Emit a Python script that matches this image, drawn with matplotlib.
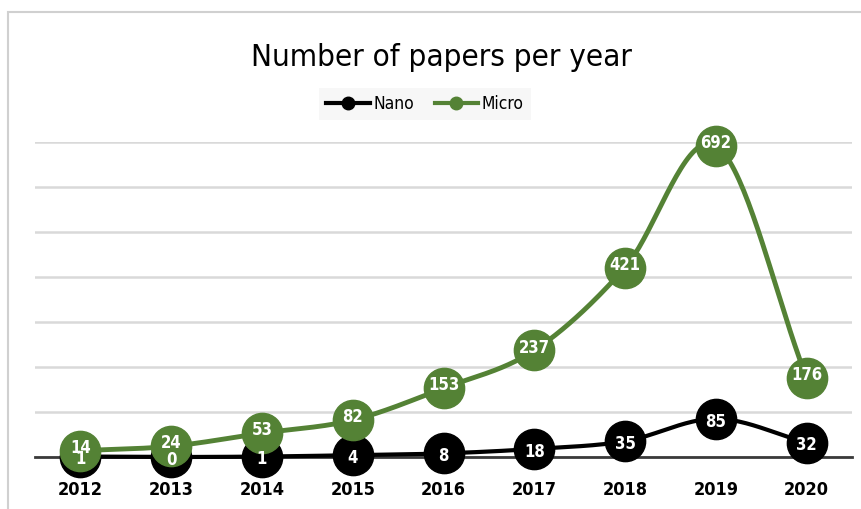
import numpy as np
import matplotlib
matplotlib.use("Agg")
import matplotlib.pyplot as plt
from matplotlib import font_manager
from matplotlib.patches import Rectangle

years = ["2012", "2013", "2014", "2015", "2016", "2017", "2018", "2019", "2020"]
nano = [1, 0, 1, 4, 8, 18, 35, 85, 32]
micro = [14, 24, 53, 82, 153, 237, 421, 692, 176]

GREEN = "#548235"

# pick a narrow face if the sandbox has one
narrow = None
for f in font_manager.fontManager.ttflist:
    if "Narrow" in f.name or "Condensed" in f.name or f.stretch in ("condensed", "semi-condensed", 400):
        if f.stretch == 400 and "Narrow" not in f.name and "Condensed" not in f.name:
            continue
        narrow = f.name
        if f.stretch == "condensed" or "Condensed" in f.name:
            break
family = narrow if narrow else "DejaVu Sans"
stretch = "condensed"


def smooth(xs, ys, n=40):
    # catmull-rom path through the points, like Excel's smoothed line
    xs = np.asarray(xs, float)
    ys = np.asarray(ys, float)
    px = np.concatenate([[2 * xs[0] - xs[1]], xs, [2 * xs[-1] - xs[-2]]])
    py = np.concatenate([[2 * ys[0] - ys[1]], ys, [2 * ys[-1] - ys[-2]]])
    ox, oy = [], []
    t = np.linspace(0, 1, n)
    for i in range(1, len(px) - 2):
        for p, out in ((px, ox), (py, oy)):
            p0, p1, p2, p3 = p[i - 1], p[i], p[i + 1], p[i + 2]
            out.extend(0.5 * (2 * p1 + (-p0 + p2) * t + (2 * p0 - 5 * p1 + 4 * p2 - p3) * t ** 2
                              + (-p0 + 3 * p1 - 3 * p2 + p3) * t ** 3))
    return ox, oy


fig = plt.figure(figsize=(8.61, 5.09), dpi=100)
fig.patches.append(Rectangle((8 / 861, -0.1), 1.2, (509 - 12) / 509 + 0.1, transform=fig.transFigure,
                             facecolor="white", edgecolor="#d0d0d0", linewidth=1.5, zorder=-5))
ax = fig.add_axes([35 / 861, (509 - 457) / 509, (852 - 35) / 861, (457 - 142) / 509])
ax.set_facecolor("none")

x = np.arange(len(years))
sx, sy = smooth(x, nano)
ax.plot(sx, sy, color="black", lw=3, solid_capstyle="round", zorder=3, clip_on=False)
ax.plot(x, nano, "o", color="black", ms=29, zorder=3, clip_on=False)
sx, sy = smooth(x, micro)
ax.plot(sx, sy, color=GREEN, lw=3.5, solid_capstyle="round", zorder=4, clip_on=False)
ax.plot(x, micro, "o", color=GREEN, ms=29, zorder=4, clip_on=False)

# labels sit a touch apart so the near-zero pairs stay readable
for xi, v in zip(x, nano):
    ax.annotate(str(v), (xi, v), xytext=(0, -2), textcoords="offset points", color="white",
                ha="center", va="center", fontsize=12, fontweight="bold",
                family=family, fontstretch=stretch, zorder=6)
for xi, v in zip(x, micro):
    ax.annotate(str(v), (xi, v), xytext=(0, 2), textcoords="offset points", color="white",
                ha="center", va="center", fontsize=12, fontweight="bold",
                family=family, fontstretch=stretch, zorder=6)

ax.set_xlim(-0.5, len(years) - 0.5)
ax.set_ylim(0, 700)
ax.set_yticks(np.arange(0, 701, 100))
ax.yaxis.grid(True, color="#d9d9d9", lw=1.8)
ax.set_axisbelow(True)
ax.tick_params(axis="y", left=False, labelleft=False)
ax.set_xticks(x)
ax.set_xticklabels(years, fontsize=13, fontweight="bold", family=family, fontstretch=stretch)
ax.tick_params(axis="x", length=0, pad=17)
for s in ("top", "right", "left"):
    ax.spines[s].set_visible(False)
ax.spines["bottom"].set_color("#3a3a3a")
ax.spines["bottom"].set_linewidth(2)

fig.text(441 / 861, 1 - 57 / 509, "Number of papers per year", ha="center", va="center",
         fontsize=22.5, family=family, fontstretch=stretch)

h1, = ax.plot([], [], "-o", color="black", lw=3, ms=9)
h2, = ax.plot([], [], "-o", color=GREEN, lw=3, ms=9)
leg = fig.legend([h1, h2], ["Nano", "Micro"], loc="center", bbox_to_anchor=(425 / 861, 1 - 104 / 509),
                 ncol=2, frameon=True, fancybox=False, handlelength=2.5, handletextpad=0.2, columnspacing=1.2,
                 prop={"family": family, "stretch": stretch, "size": 12.5})
leg.get_frame().set_facecolor("#f5f5f5")
leg.get_frame().set_edgecolor("none")

fig.savefig("out.png", dpi=100)
